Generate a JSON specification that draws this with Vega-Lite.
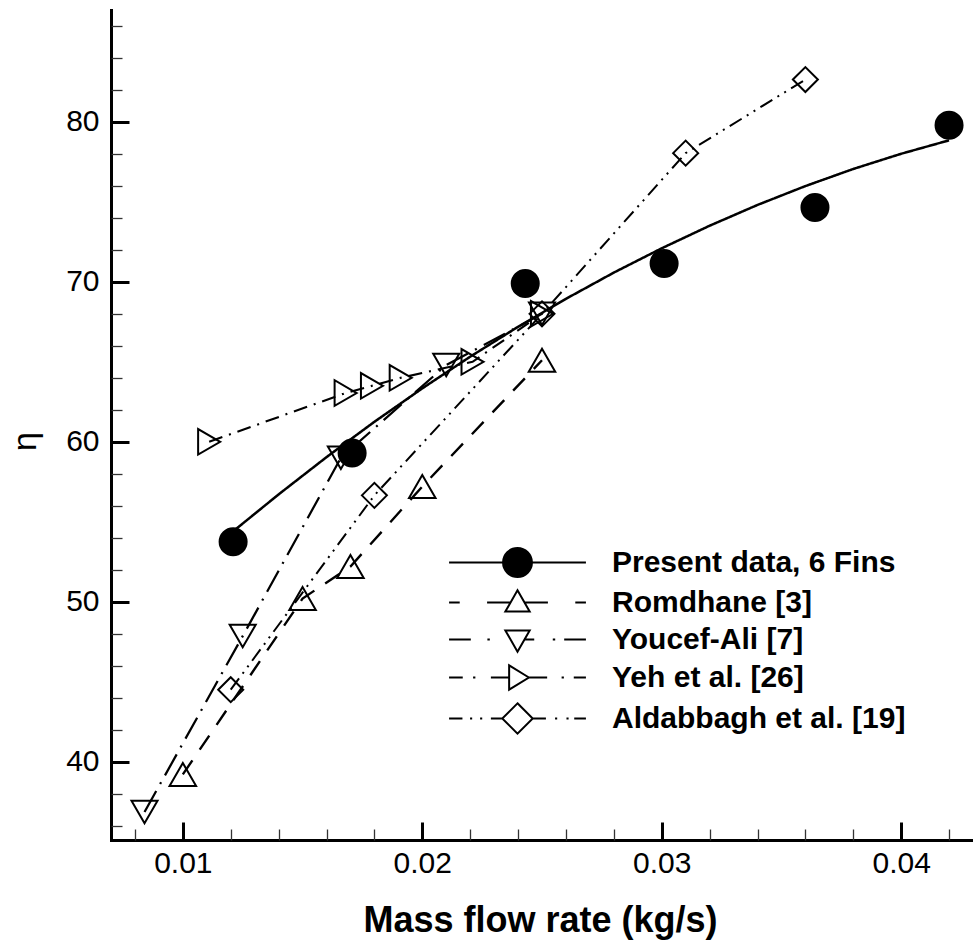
{
  "$schema": "https://vega.github.io/schema/vega-lite/v6.json",
  "width": 862,
  "height": 830,
  "autosize": {"type": "none"},
  "padding": {"left": 111, "top": 10, "right": 0, "bottom": 105},
  "background": "white",
  "config": {
    "view": {"stroke": null},
    "font": "Liberation Sans, Arial, sans-serif",
    "axis": {
      "grid": false,
      "domainColor": "black",
      "domainWidth": 3,
      "domainCap": "square",
      "tickColor": "black",
      "labelColor": "black",
      "titleColor": "black",
      "labelFont": "Liberation Sans, Arial, sans-serif",
      "titleFont": "Liberation Sans, Arial, sans-serif"
    }
  },
  "datasets": {
    "pts": [
      {"series": "Present data, 6 Fins", "x": 0.0121, "y": 53.75},
      {"series": "Present data, 6 Fins", "x": 0.01707, "y": 59.3},
      {"series": "Present data, 6 Fins", "x": 0.0243, "y": 69.9},
      {"series": "Present data, 6 Fins", "x": 0.0301, "y": 71.15},
      {"series": "Present data, 6 Fins", "x": 0.0364, "y": 74.65},
      {"series": "Present data, 6 Fins", "x": 0.042, "y": 79.8},
      {"series": "Romdhane [3]", "x": 0.01, "y": 39.2},
      {"series": "Romdhane [3]", "x": 0.015, "y": 50.2},
      {"series": "Romdhane [3]", "x": 0.017, "y": 52.2},
      {"series": "Romdhane [3]", "x": 0.02, "y": 57.2},
      {"series": "Romdhane [3]", "x": 0.025, "y": 65.1},
      {"series": "Youcef-Ali [7]", "x": 0.0084, "y": 36.85},
      {"series": "Youcef-Ali [7]", "x": 0.0125, "y": 47.85},
      {"series": "Youcef-Ali [7]", "x": 0.0166, "y": 59.0},
      {"series": "Youcef-Ali [7]", "x": 0.021, "y": 64.8},
      {"series": "Youcef-Ali [7]", "x": 0.025, "y": 68.0},
      {"series": "Yeh et al. [26]", "x": 0.0111, "y": 60.0},
      {"series": "Yeh et al. [26]", "x": 0.0168, "y": 63.05},
      {"series": "Yeh et al. [26]", "x": 0.0179, "y": 63.5},
      {"series": "Yeh et al. [26]", "x": 0.0191, "y": 64.0},
      {"series": "Yeh et al. [26]", "x": 0.0221, "y": 65.0},
      {"series": "Yeh et al. [26]", "x": 0.025, "y": 68.0},
      {"series": "Aldabbagh et al. [19]", "x": 0.012, "y": 44.5},
      {"series": "Aldabbagh et al. [19]", "x": 0.018, "y": 56.65},
      {"series": "Aldabbagh et al. [19]", "x": 0.025, "y": 68.0},
      {"series": "Aldabbagh et al. [19]", "x": 0.031, "y": 78.05},
      {"series": "Aldabbagh et al. [19]", "x": 0.036, "y": 82.65}
    ],
    "lines": [
      {"series": "Present data, 6 Fins", "x": 0.0121, "y": 54.4},
      {"series": "Present data, 6 Fins", "x": 0.014, "y": 56.71},
      {"series": "Present data, 6 Fins", "x": 0.016, "y": 59.04},
      {"series": "Present data, 6 Fins", "x": 0.018, "y": 61.25},
      {"series": "Present data, 6 Fins", "x": 0.02, "y": 63.34},
      {"series": "Present data, 6 Fins", "x": 0.022, "y": 65.32},
      {"series": "Present data, 6 Fins", "x": 0.024, "y": 67.19},
      {"series": "Present data, 6 Fins", "x": 0.026, "y": 68.94},
      {"series": "Present data, 6 Fins", "x": 0.028, "y": 70.58},
      {"series": "Present data, 6 Fins", "x": 0.03, "y": 72.1},
      {"series": "Present data, 6 Fins", "x": 0.032, "y": 73.51},
      {"series": "Present data, 6 Fins", "x": 0.034, "y": 74.81},
      {"series": "Present data, 6 Fins", "x": 0.036, "y": 75.99},
      {"series": "Present data, 6 Fins", "x": 0.038, "y": 77.06},
      {"series": "Present data, 6 Fins", "x": 0.04, "y": 78.01},
      {"series": "Present data, 6 Fins", "x": 0.042, "y": 78.85},
      {"series": "Romdhane [3]", "x": 0.01, "y": 39.2},
      {"series": "Romdhane [3]", "x": 0.015, "y": 50.2},
      {"series": "Romdhane [3]", "x": 0.017, "y": 52.2},
      {"series": "Romdhane [3]", "x": 0.02, "y": 57.2},
      {"series": "Romdhane [3]", "x": 0.025, "y": 65.1},
      {"series": "Youcef-Ali [7]", "x": 0.0084, "y": 36.85},
      {"series": "Youcef-Ali [7]", "x": 0.0125, "y": 47.85},
      {"series": "Youcef-Ali [7]", "x": 0.0166, "y": 59.0},
      {"series": "Youcef-Ali [7]", "x": 0.021, "y": 64.8},
      {"series": "Youcef-Ali [7]", "x": 0.025, "y": 68.0},
      {"series": "Yeh et al. [26]", "x": 0.0111, "y": 60.0},
      {"series": "Yeh et al. [26]", "x": 0.0168, "y": 63.05},
      {"series": "Yeh et al. [26]", "x": 0.0179, "y": 63.5},
      {"series": "Yeh et al. [26]", "x": 0.0191, "y": 64.0},
      {"series": "Yeh et al. [26]", "x": 0.0221, "y": 65.0},
      {"series": "Yeh et al. [26]", "x": 0.025, "y": 68.0},
      {"series": "Aldabbagh et al. [19]", "x": 0.012, "y": 44.5},
      {"series": "Aldabbagh et al. [19]", "x": 0.018, "y": 56.65},
      {"series": "Aldabbagh et al. [19]", "x": 0.025, "y": 68.0},
      {"series": "Aldabbagh et al. [19]", "x": 0.031, "y": 78.05},
      {"series": "Aldabbagh et al. [19]", "x": 0.036, "y": 82.65}
    ]
  },
  "layer": [
    {
      "data": {"name": "lines"},
      "mark": {"type": "line", "color": "black"},
      "encoding": {
        "x": {
          "field": "x", "type": "quantitative",
          "scale": {"domain": [0.007, 0.043], "nice": false, "zero": false},
          "axis": {
            "orient": "bottom",
            "values": [0.01, 0.02, 0.03, 0.04],
            "format": ".2f",
            "tickSize": -18,
            "tickWidth": 3,
            "labelFontSize": 30,
            "labelPadding": 26,
            "labelFlush": false,
            "title": "Mass flow rate (kg/s)",
            "titleFontSize": 36,
            "titleFontWeight": "bold",
            "titleX": 429,
            "titleY": 91,
            "titleAlign": "center",
            "titleBaseline": "alphabetic"
          }
        },
        "y": {
          "field": "y", "type": "quantitative",
          "scale": {"domain": [35.1, 87], "nice": false, "zero": false},
          "axis": {
            "orient": "left",
            "values": [40, 50, 60, 70, 80],
            "tickSize": -18,
            "tickWidth": 3,
            "labelFontSize": 30,
            "labelPadding": 30,
            "labelFlush": false,
            "title": "η",
            "titleFontSize": 34,
            "titleFontWeight": "normal",
            "titleX": -86,
            "titleY": 431,
            "titleAlign": "center",
            "titleBaseline": "middle"
          }
        },
        "strokeDash": {
          "field": "series", "type": "nominal",
          "scale": {
            "domain": ["Present data, 6 Fins", "Romdhane [3]", "Youcef-Ali [7]", "Yeh et al. [26]", "Aldabbagh et al. [19]"],
            "range": [[1, 0], [17, 13], [24, 8, 2, 8], [14, 7, 2, 7], [14, 6, 2, 6, 2, 6]]
          },
          "legend": null
        },
        "strokeWidth": {
          "field": "series", "type": "nominal",
          "scale": {
            "domain": ["Present data, 6 Fins", "Romdhane [3]", "Youcef-Ali [7]", "Yeh et al. [26]", "Aldabbagh et al. [19]"],
            "range": [2.5, 2, 2, 2, 2]
          },
          "legend": null
        }
      }
    },
    {
      "data": {"name": "pts"},
      "mark": {"type": "point", "filled": true, "stroke": "black", "strokeWidth": 2, "opacity": 1},
      "encoding": {
        "x": {
          "field": "x", "type": "quantitative",
          "axis": {
            "orient": "bottom",
            "values": [0.008, 0.012, 0.014, 0.016, 0.018, 0.022, 0.024, 0.026, 0.028, 0.032, 0.034, 0.036, 0.038, 0.042],
            "labels": false,
            "domain": false,
            "tickSize": -11,
            "tickWidth": 1.3,
            "tickColor": "#333333",
            "title": null
          }
        },
        "y": {
          "field": "y", "type": "quantitative",
          "axis": {
            "orient": "left",
            "values": [36, 38, 42, 44, 46, 48, 52, 54, 56, 58, 62, 64, 66, 68, 72, 74, 76, 78, 82, 84, 86],
            "labels": false,
            "domain": false,
            "tickSize": -11,
            "tickWidth": 1.3,
            "tickColor": "#333333",
            "title": null
          }
        },
        "shape": {
          "field": "series", "type": "nominal",
          "scale": {
            "domain": ["Present data, 6 Fins", "Romdhane [3]", "Youcef-Ali [7]", "Yeh et al. [26]", "Aldabbagh et al. [19]"],
            "range": ["circle", "triangle-up", "triangle-down", "triangle-right", "diamond"]
          },
          "legend": null
        },
        "size": {
          "field": "series", "type": "nominal",
          "scale": {
            "domain": ["Present data, 6 Fins", "Romdhane [3]", "Youcef-Ali [7]", "Yeh et al. [26]", "Aldabbagh et al. [19]"],
            "range": [730, 625, 600, 676, 840]
          },
          "legend": null
        },
        "fill": {
          "field": "series", "type": "nominal",
          "scale": {
            "domain": ["Present data, 6 Fins", "Romdhane [3]", "Youcef-Ali [7]", "Yeh et al. [26]", "Aldabbagh et al. [19]"],
            "range": ["black", "transparent", "transparent", "transparent", "transparent"]
          },
          "legend": null
        }
      }
    },
    {
      "data": {"name": "pts"},
      "transform": [{"filter": "false"}],
      "mark": {"type": "point", "opacity": 1, "color": "black", "strokeWidth": 2},
      "encoding": {
        "x": {"field": "x", "type": "quantitative", "axis": null},
        "y": {"field": "y", "type": "quantitative", "axis": null},
        "shape": {
          "field": "series", "type": "nominal",
          "scale": {
            "domain": ["Present data, 6 Fins", "Romdhane [3]", "Youcef-Ali [7]", "Yeh et al. [26]", "Aldabbagh et al. [19]"],
            "range": [
              "M-4.5,0H4.5M0.95,0A0.95,0.95,0,1,1,-0.95,0A0.95,0.95,0,1,1,0.95,0ZM0.85,0A0.85,0.85,0,1,1,-0.85,0A0.85,0.85,0,1,1,0.85,0ZM0.75,0A0.75,0.75,0,1,1,-0.75,0A0.75,0.75,0,1,1,0.75,0ZM0.65,0A0.65,0.65,0,1,1,-0.65,0A0.65,0.65,0,1,1,0.65,0ZM0.55,0A0.55,0.55,0,1,1,-0.55,0A0.55,0.55,0,1,1,0.55,0ZM0.45,0A0.45,0.45,0,1,1,-0.45,0A0.45,0.45,0,1,1,0.45,0ZM0.35,0A0.35,0.35,0,1,1,-0.35,0A0.35,0.35,0,1,1,0.35,0ZM0.25,0A0.25,0.25,0,1,1,-0.25,0A0.25,0.25,0,1,1,0.25,0ZM0.15,0A0.15,0.15,0,1,1,-0.15,0A0.15,0.15,0,1,1,0.15,0ZM0.06,0A0.06,0.06,0,1,1,-0.06,0A0.06,0.06,0,1,1,0.06,0Z",
              "M-4.5,0H-3.8M-2,0H-0.46M0.46,0H2M3.8,0H4.5M0,-0.8L0.8,0.6L-0.8,0.6Z",
              "M-4.5,0H-3.07M-1.98,0H-1.82M0.46,0H1.1M2.32,0H2.48M3.07,0H4.5M0,0.8L0.8,-0.6L-0.8,-0.6Z",
              "M-4.5,0H-3.6M-2.92,0H-2.77M-1.75,0H-0.55M0.75,0H1.95M2.9,0H3.05M3.7,0H4.5M0.75,0L-0.55,-0.8L-0.55,0.8Z",
              "M-4.5,0H-3.62M-3.12,0H-2.98M-2.46,0H-2.32M-1.75,0H-1M1,0H1.87M2.47,0H2.61M3.22,0H3.36M3.73,0H4.5M0,-1L1,0L0,1L-1,0Z"
            ]
          },
          "legend": {
            "orient": "none",
            "legendX": 390,
            "legendY": 536,
            "title": null,
            "direction": "vertical",
            "padding": 0,
            "symbolSize": 925,
            "symbolStrokeWidth": 2,
            "symbolStrokeColor": "black",
            "symbolFillColor": "transparent",
            "symbolOpacity": 1,
            "labelFont": "Liberation Sans, Arial, sans-serif",
            "labelFontSize": 30,
            "labelFontWeight": "bold",
            "labelColor": "black",
            "labelOffset": 78,
            "labelLimit": 600,
            "rowPadding": 5
          }
        }
      }
    }
  ],
  "resolve": {
    "scale": {"shape": "independent"},
    "axis": {"x": "independent", "y": "independent"}
  }
}
